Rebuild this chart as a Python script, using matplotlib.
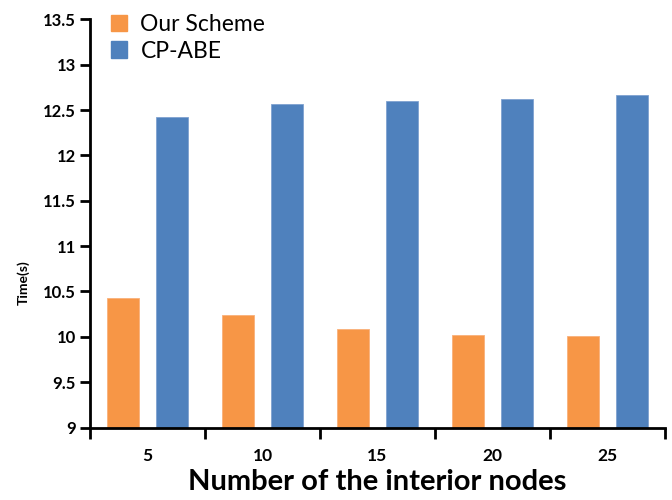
import matplotlib
matplotlib.use("Agg")
import matplotlib.pyplot as plt
import numpy as np
from matplotlib.patches import Patch

categories = ["5", "10", "15", "20", "25"]
our_scheme = [10.43, 10.24, 10.09, 10.02, 10.01]
cp_abe = [12.42, 12.57, 12.60, 12.62, 12.67]
y_ticks = [9, 9.5, 10, 10.5, 11, 11.5, 12, 12.5, 13, 13.5]
y_tick_labels = ["9", "9.5", "10", "10.5", "11", "11.5", "12", "12.5", "13", "13.5"]

plt.rcParams['font.family'] = ['Lato', 'DejaVu Sans']

fig = plt.figure(figsize=(6.72, 5.0), dpi=100)
ax = fig.add_axes([90/672, 1-427.5/500, (665-90)/672, (427.5-19.3)/500])

x = np.arange(len(categories))
w = 0.28
off = 0.213
orange = "#F79646"
blue = "#4F81BD"
ax.bar(x - off, [v - 9 for v in our_scheme], w, bottom=9, color=orange, edgecolor="#F9B07A", linewidth=0.6)
ax.bar(x + off, [v - 9 for v in cp_abe], w, bottom=9, color=blue, edgecolor="#7FA2D0", linewidth=0.6)

ax.set_xlim(-0.5, len(categories) - 0.5)
ax.set_ylim(9, 13.5)
ax.set_yticks(y_ticks)
ax.set_yticklabels(y_tick_labels, fontsize=12, fontweight='bold')
ax.set_xticks(x)
ax.set_xticklabels(categories, fontsize=12.5, fontweight='bold')
ax.set_xticks(np.arange(-0.5, len(categories)), minor=True)
ax.tick_params(axis='x', which='major', length=0, pad=15)
ax.tick_params(axis='x', which='minor', length=8, width=2, direction='out')
ax.tick_params(axis='y', length=7, width=2, direction='out', pad=3)

for s in ['top', 'right']:
    ax.spines[s].set_visible(False)
for s in ['left', 'bottom']:
    ax.spines[s].set_linewidth(2)
    ax.spines[s].set_color('black')

ax.set_xlabel("Number of the interior nodes", fontsize=21, fontweight='bold', labelpad=3)
ax.set_ylabel("Time(s)", fontsize=10, fontweight='bold', labelpad=8)
ax.yaxis.set_label_coords(-0.105, 0.354)

handles = [Patch(color=orange, label="Our Scheme"), Patch(color=blue, label="CP-ABE")]
ax.legend(handles=handles, loc='upper left', bbox_to_anchor=(0.0, 1.064), frameon=False,
          fontsize=16.5, handlelength=0.7, handleheight=0.7, handletextpad=0.6, labelspacing=0.25)

fig.savefig("out.png", dpi=100)
